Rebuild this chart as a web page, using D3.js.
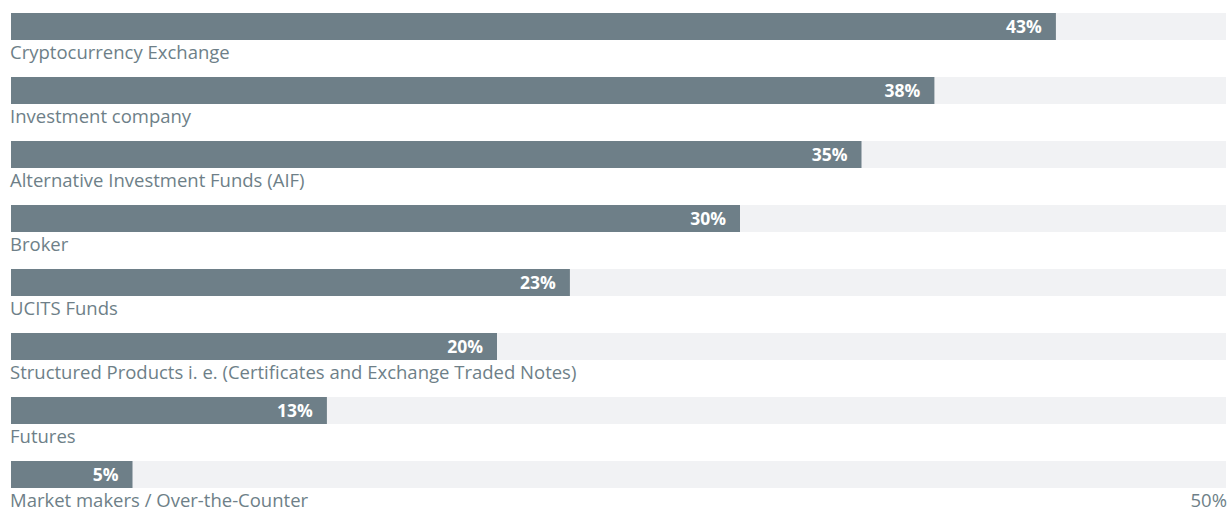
<!DOCTYPE html>
<html>
<head>
<meta charset="utf-8">
<script src="https://cdn.jsdelivr.net/npm/d3@7"></script>
<style>
  body { margin: 0; background: #fff; font-family: "Open Sans", sans-serif; overflow: hidden; }
</style>
</head>
<body>
<div id="chart"></div>
<script>
// Data
const categories = [
    "Cryptocurrency Exchange",
    "Investment company",
    "Alternative Investment Funds (AIF)",
    "Broker",
    "UCITS Funds",
    "Structured Products i. e. (Certificates and Exchange Traded Notes)",
    "Futures",
    "Market makers / Over-the-Counter"
];
const values = [43, 38, 35, 30, 23, 20, 13, 5];
const maxValue = 50;
const maxLabel = "50%";

const width = 1228, height = 508;
const margin = {top: 13, right: 2, left: 11};
const rowStep = 64;
const barHeight = 27;

const svg = d3.select("#chart")
    .append("svg")
    .attr("width", width)
    .attr("height", height)
    .style("display", "block");

const x = d3.scaleLinear()
    .domain([0, maxValue])
    .range([margin.left, width - margin.right]);

const y = d3.scaleBand()
    .domain(categories)
    .range([margin.top, margin.top + rowStep * categories.length])
    .paddingInner(0);

const rows = svg.selectAll(".row")
    .data(categories.map((c, i) => ({name: c, value: values[i]})))
    .enter()
    .append("g")
    .attr("class", "row")
    .attr("transform", d => `translate(0, ${y(d.name)})`);

// background track
rows.append("rect")
    .attr("x", x(0))
    .attr("width", x(maxValue) - x(0))
    .attr("height", barHeight)
    .attr("fill", "#f1f2f4");

// value bar
rows.append("rect")
    .attr("x", x(0))
    .attr("width", d => x(d.value) - x(0))
    .attr("height", barHeight)
    .attr("fill", "#6e7f88");

// value label
rows.append("text")
    .attr("x", d => x(d.value) - 14)
    .attr("y", 20)
    .attr("text-anchor", "end")
    .attr("fill", "#fff")
    .style("font-size", "17.5px")
    .style("font-weight", "700")
    .text(d => d.value + "%");

// category label
rows.append("text")
    .attr("x", x(0) - 1)
    .attr("y", 45.5)
    .attr("fill", "#6e7f88")
    .style("font-size", "18.5px")
    .text(d => d.name);

// max tick
svg.append("text")
    .attr("x", width - 1)
    .attr("y", y(categories[categories.length - 1]) + 45.5)
    .attr("text-anchor", "end")
    .attr("fill", "#6e7f88")
    .style("font-size", "18.5px")
    .text(maxLabel);
</script>
</body>
</html>
